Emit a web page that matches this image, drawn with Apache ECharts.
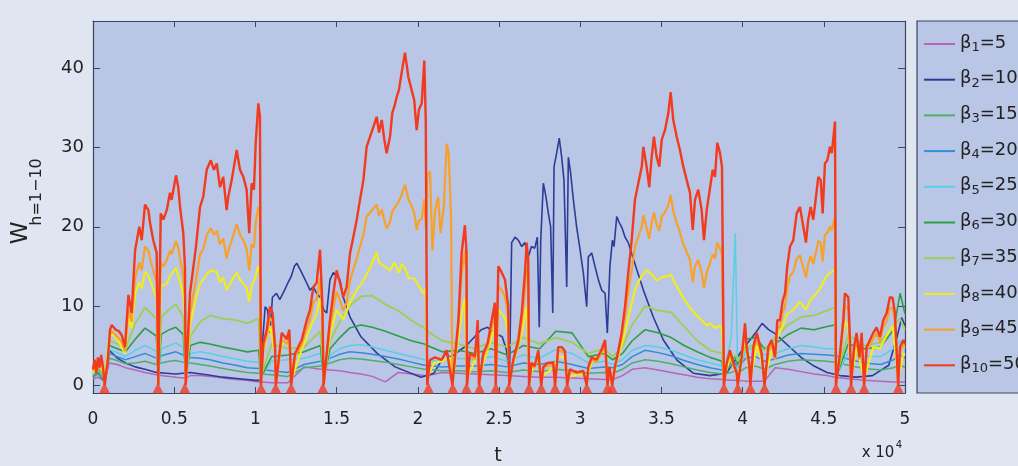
<!DOCTYPE html>
<html><head><meta charset="utf-8">
<script src="https://cdn.jsdelivr.net/npm/echarts@6/dist/echarts.min.js"></script>
<style>html,body{margin:0;padding:0;background:#dfe5f1;}#c{width:1018px;height:466px;}</style>
</head><body><div id="c"></div>
<script>
// ---------- data (t in units of 10^4) ----------
const xTickLabels = [0,0.5,1,1.5,2,2.5,3,3.5,4,4.5,5];
const yTicks = [0,10,20,30,40];
const betaVals = [5,10,15,20,25,30,35,40,45,50];
const resetT = [0.071,0.40,0.565,1.035,1.125,1.22,1.415,2.065,2.215,2.30,2.38,2.48,2.56,2.685,2.76,2.845,2.92,3.04,3.168,3.197,3.885,3.97,4.048,4.135,4.575,4.668,4.748,4.958];

const tLow = [0,0.03,0.072,0.1,0.15,0.2,0.26,0.32,0.39,0.402,0.42,0.47,0.51,0.556,0.571,0.6,0.66,0.72,0.8,0.88,0.95,1.02,1.034,1.1,1.2,1.3,1.4,1.42,1.46,1.52,1.58,1.65,1.72,1.8,1.88,1.96,2.04,2.058,2.15,2.25,2.35,2.45,2.55,2.65,2.75,2.85,2.95,3.05,3.15,3.2,3.26,3.32,3.4,3.48,3.56,3.64,3.72,3.8,3.873,3.885,3.93,3.955,3.97,4.02,4.08,4.135,4.2,4.28,4.36,4.44,4.52,4.569,4.575,4.65,4.75,4.85,4.93,4.97,5.0];
const w1 = [0.8,1.0,0.5,2.8,2.6,2.2,1.9,1.6,1.3,1.2,1.2,1.1,1.0,0.9,0.9,1.2,1.2,1.1,0.9,0.7,0.6,0.4,0.4,0.3,0.3,2.3,2.0,2.0,1.9,1.8,1.6,1.4,1.1,0.4,1.6,1.4,1.2,1.2,1.6,1.5,1.4,1.3,1.2,1.1,1.0,1.0,0.9,0.8,0.7,0.7,1.2,2.0,2.2,1.9,1.6,1.3,1.0,0.8,0.7,0.7,0.6,0.6,0.6,0.5,0.5,0.5,2.2,2.0,1.7,1.4,1.2,1.0,1.0,0.8,0.6,0.5,0.4,0.4,0.4];
const w3 = [1.0,1.4,0.6,3.4,3.1,2.7,2.8,3.0,2.6,2.5,2.8,3.0,3.1,2.9,2.8,2.8,2.6,2.4,2.1,1.8,1.6,1.5,1.4,1.3,1.1,2.2,2.4,2.4,2.8,3.2,3.4,3.3,3.1,2.9,2.6,2.3,2.0,2.0,1.8,1.8,1.7,1.8,1.6,1.9,1.7,2.0,1.8,1.5,1.6,1.5,2.0,2.8,3.2,3.0,2.7,2.3,1.9,1.6,1.4,1.4,1.6,1.8,1.5,2.2,2.4,2.0,2.6,3.0,3.2,3.1,3.0,2.9,2.9,2.5,2.1,1.9,2.2,2.6,2.2];
const w4 = [1.2,1.7,0.6,4.0,3.6,3.2,3.6,4.0,3.4,3.3,3.7,4.0,4.2,3.8,3.7,3.5,3.4,3.2,2.8,2.5,2.2,2.1,2.0,1.8,1.6,2.6,3.0,3.0,3.4,3.9,4.2,4.1,3.9,3.6,3.3,2.9,2.5,2.5,2.3,2.4,2.4,2.6,2.3,2.8,2.6,3.0,2.6,2.1,2.3,2.2,2.6,3.6,4.4,4.1,3.7,3.1,2.6,2.2,1.9,1.9,2.4,2.8,2.2,3.4,3.6,3.0,3.3,3.8,4.0,3.9,3.8,3.7,3.7,3.3,2.8,2.6,3.2,3.8,3.4];
const w5 = [1.3,1.9,0.7,4.5,4.1,3.6,4.4,5.0,4.3,1.0,4.6,5.0,5.3,4.8,1.0,4.0,4.2,4.0,3.6,3.3,3.0,2.9,1.0,3.0,3.2,3.4,4.0,1.0,3.8,4.6,5.0,5.1,4.8,4.4,4.0,3.6,3.2,3.1,3.0,3.4,3.2,3.6,3.0,3.8,3.4,4.5,4.0,2.8,3.0,2.6,3.2,4.4,5.0,4.8,4.4,3.8,3.2,2.8,2.4,1.0,6.0,19.2,1.2,4.4,4.8,3.8,4.0,4.6,5.0,4.8,4.6,4.6,1.0,4.0,3.6,3.6,4.6,5.6,5.0];
const w6 = [1.5,2.2,0.7,5.0,4.6,4.2,5.8,7.2,6.2,1.0,6.4,7.0,7.3,6.4,1.0,5.0,5.4,5.2,4.8,4.5,4.2,4.4,1.0,3.6,3.8,4.2,5.0,1.0,4.6,6.0,7.2,7.6,7.3,6.8,6.2,5.6,5.2,5.0,4.2,4.4,4.0,4.6,3.8,5.0,4.6,6.8,6.6,3.6,4.0,3.2,4.0,5.6,7.0,6.6,6.0,5.0,4.2,3.5,3.0,1.0,3.0,3.6,2.6,5.8,6.0,4.6,5.2,6.4,7.2,7.0,7.4,7.6,1.0,5.2,4.6,4.8,7.0,11.6,9.0];
const w7 = [1.6,2.4,0.8,5.6,5.2,4.6,7.8,9.8,8.4,1.0,8.6,9.6,10.2,8.6,1.0,6.2,8.0,8.8,8.4,8.2,7.8,8.4,1.0,5.2,4.6,4.8,6.8,1.2,5.6,8.0,10.0,11.2,11.3,10.2,9.4,8.2,7.2,6.8,5.6,5.2,4.6,5.4,4.8,6.0,5.2,6.0,5.4,4.0,4.6,3.6,4.8,7.6,10.0,9.4,9.2,7.4,5.6,4.4,4.0,1.0,3.4,3.8,3.0,4.6,5.2,4.4,6.0,7.6,8.6,8.8,9.4,9.8,1.0,6.4,5.0,5.4,7.6,8.4,7.0];

const w2 = [[0,1.0],[0.03,1.5],[0.072,0.5],[0.1,4.4],[0.15,3.4],[0.2,2.8],[0.26,2.3],[0.32,2.0],[0.39,1.6],[0.45,1.5],[0.51,1.4],[0.6,1.6],[0.7,1.3],[0.8,1.0],[0.9,0.8],[1.0,0.6],[1.034,0.6],[1.045,5.7],[1.06,9.9],[1.075,9.5],[1.09,6.6],[1.105,11.1],[1.13,11.6],[1.15,10.8],[1.175,11.8],[1.2,12.9],[1.22,13.7],[1.24,15],[1.255,15.4],[1.285,14.2],[1.316,12.9],[1.336,12],[1.357,12.4],[1.377,11.6],[1.398,11.1],[1.42,9.5],[1.439,9.1],[1.459,13.3],[1.48,14.2],[1.5,13.8],[1.521,13.3],[1.541,11.1],[1.583,8.6],[1.65,6.1],[1.75,4],[1.86,2.3],[2.02,1.0],[2.1,1.5],[2.17,4],[2.2,3.5],[2.3,5],[2.39,7],[2.43,7.3],[2.47,6.6],[2.52,6.1],[2.545,4.5],[2.565,1.5],[2.578,18],[2.599,18.7],[2.619,18.3],[2.64,17.5],[2.66,18],[2.68,16.2],[2.7,17.5],[2.72,17.3],[2.736,18.7],[2.748,7.3],[2.757,18.3],[2.773,25.5],[2.789,23.8],[2.804,21.7],[2.818,20],[2.831,9.1],[2.839,27.6],[2.855,29.3],[2.871,31.2],[2.886,28.8],[2.9,25.9],[2.917,12.4],[2.927,28.8],[2.941,26.8],[2.958,23.4],[2.978,20],[2.999,17.1],[3.019,14.2],[3.04,9.9],[3.05,16.2],[3.071,16.7],[3.091,15],[3.112,13.3],[3.132,12],[3.153,11.6],[3.167,6.6],[3.183,15],[3.198,18.3],[3.208,17.5],[3.225,21.3],[3.241,20.5],[3.255,20],[3.276,18.7],[3.296,18],[3.348,14.6],[3.389,12],[3.45,8.6],[3.512,5.7],[3.594,3.2],[3.696,1.5],[3.8,1.2],[3.9,1.5],[3.95,3],[4.0,4.5],[4.08,6.6],[4.12,7.8],[4.16,7.0],[4.2,6.5],[4.28,5],[4.36,3.5],[4.44,2.4],[4.52,1.6],[4.6,1.2],[4.7,1.0],[4.8,1.2],[4.9,2.5],[4.95,6],[4.98,8.5],[5.0,7.5]];

const w8 = [[0,1.5],[0.03,2.6],[0.06,2.0],[0.072,0.5],[0.1,6.0],[0.115,6.5],[0.15,5.8],[0.197,4.0],[0.218,8.5],[0.238,7.2],[0.259,11.5],[0.285,13],[0.3,12.2],[0.32,14.3],[0.341,13.8],[0.371,12.2],[0.392,11],[0.402,0.5],[0.417,12.5],[0.454,12.8],[0.474,13.8],[0.511,14.8],[0.536,13],[0.556,11.5],[0.566,9],[0.571,0.5],[0.597,7.5],[0.634,11],[0.659,12.8],[0.7,14],[0.725,14.5],[0.762,14.3],[0.782,13],[0.802,13.6],[0.823,12],[0.854,13.2],[0.885,14.2],[0.905,13.3],[0.946,12.3],[0.962,10.5],[0.977,12.5],[1.002,13.8],[1.018,15],[1.028,14.3],[1.034,0.5],[1.049,4.3],[1.09,7.5],[1.121,4],[1.126,0.5],[1.162,5.2],[1.209,5.6],[1.22,0.5],[1.285,4.5],[1.336,7.2],[1.377,9],[1.398,11],[1.412,8],[1.42,0.5],[1.459,6.3],[1.5,9.5],[1.541,8.3],[1.583,10.5],[1.624,12],[1.665,13.2],[1.706,14.8],[1.747,16.8],[1.761,15.5],[1.794,15],[1.829,14.5],[1.856,15.5],[1.884,14.2],[1.9,15.3],[1.921,14.8],[1.942,13.5],[1.978,13.5],[2.007,12.5],[2.04,11.5],[2.049,12.2],[2.058,1],[2.1,2.8],[2.15,3],[2.2,3.5],[2.213,0.5],[2.27,9],[2.29,11],[2.303,1],[2.35,3],[2.369,6],[2.377,1],[2.43,4.5],[2.455,6],[2.475,7.5],[2.48,1],[2.496,9.5],[2.537,8.5],[2.557,6.5],[2.563,1],[2.64,6.5],[2.67,10],[2.685,1],[2.742,3.5],[2.76,1],[2.834,2.2],[2.865,3.6],[2.906,3.5],[2.92,1],[3.019,1.5],[3.04,1],[3.07,2.8],[3.153,4.6],[3.168,1],[3.197,1],[3.255,5],[3.296,8.5],[3.337,12],[3.358,13],[3.379,13.8],[3.409,14.5],[3.44,14],[3.471,13.2],[3.502,13.6],[3.543,13.8],[3.557,14],[3.594,12.5],[3.635,11],[3.676,9.8],[3.707,9],[3.748,8.2],[3.779,7.5],[3.8,7.8],[3.83,7.2],[3.861,7.5],[3.873,7],[3.885,0.8],[3.922,3.6],[3.964,1.5],[3.97,0.8],[4.015,5.8],[4.048,0.8],[4.087,5],[4.117,3],[4.135,0.8],[4.179,4.3],[4.214,6],[4.247,7.5],[4.275,9],[4.312,9.5],[4.353,10.5],[4.39,9.5],[4.419,10.8],[4.452,11.5],[4.481,12.3],[4.507,13.5],[4.538,14.2],[4.569,14.5],[4.575,0.8],[4.63,8],[4.651,7.5],[4.668,0.8],[4.702,4.8],[4.748,0.8],[4.805,4.8],[4.846,4.6],[4.887,6.3],[4.924,7.5],[4.958,0.8],[4.99,4],[5.0,3.8]];

const w9 = [[0,1.8],[0.01,2.8],[0.02,1.5],[0.03,3.0],[0.04,2.0],[0.05,3.2],[0.06,2.3],[0.072,0],[0.09,3],[0.105,6.5],[0.115,6.8],[0.14,6.3],[0.177,5.5],[0.197,4.3],[0.218,9.5],[0.238,8],[0.259,13.5],[0.285,15.5],[0.3,14.5],[0.32,17.5],[0.341,17],[0.351,16],[0.371,14.5],[0.392,13],[0.402,0],[0.417,15.5],[0.433,15],[0.454,15.8],[0.474,17],[0.484,16.5],[0.511,18.2],[0.525,17.3],[0.536,16],[0.556,13.8],[0.566,11],[0.571,0],[0.597,9],[0.608,10.3],[0.634,13.3],[0.659,16.5],[0.679,17.2],[0.7,19],[0.725,19.8],[0.745,19],[0.762,19.5],[0.782,17.8],[0.802,18.5],[0.823,16],[0.833,17],[0.854,18.3],[0.868,19.2],[0.885,20.3],[0.905,19],[0.926,18.3],[0.946,17.2],[0.962,14.5],[0.977,17.8],[0.991,17.4],[1.002,20.5],[1.018,22.5],[1.028,21.5],[1.034,0],[1.049,4.8],[1.07,6.2],[1.09,8.5],[1.106,8],[1.121,4.3],[1.126,0],[1.162,5.8],[1.193,5.2],[1.209,6.2],[1.22,0],[1.244,3.6],[1.285,5.1],[1.316,7.2],[1.336,8.3],[1.357,10.5],[1.377,10.8],[1.398,13.5],[1.412,9],[1.42,0],[1.439,3.6],[1.459,7.2],[1.48,9.8],[1.5,11.8],[1.521,10.7],[1.541,9.4],[1.562,10.4],[1.583,13.2],[1.603,14.6],[1.624,16],[1.644,17.5],[1.665,19],[1.685,21.3],[1.706,21.8],[1.726,22.3],[1.747,22.8],[1.761,21.4],[1.778,22.2],[1.794,20.8],[1.808,19.8],[1.829,20.6],[1.843,22],[1.856,22.3],[1.87,22.8],[1.884,23.2],[1.9,24],[1.921,25.3],[1.942,23.5],[1.962,22.6],[1.978,21.8],[1.993,19.6],[2.007,20.8],[2.024,21],[2.04,23.5],[2.049,20],[2.058,26.5],[2.075,27],[2.09,17],[2.106,22],[2.125,23.8],[2.14,19.2],[2.16,22.5],[2.178,30.5],[2.19,29.3],[2.205,21],[2.213,0],[2.25,7.5],[2.27,14],[2.29,17],[2.3,14],[2.303,0],[2.32,3.6],[2.352,3.3],[2.369,7.3],[2.377,0],[2.403,3.6],[2.43,4.8],[2.455,7.3],[2.475,9.2],[2.48,0],[2.496,12.5],[2.517,12],[2.537,11.2],[2.557,8.6],[2.563,0],[2.588,2.9],[2.619,5.1],[2.64,8],[2.66,12],[2.67,14.8],[2.68,13.3],[2.685,0],[2.7,2.5],[2.72,2.2],[2.742,4],[2.76,0],[2.773,2.1],[2.8,2.5],[2.834,2.5],[2.845,0],[2.865,4.3],[2.886,4.3],[2.906,3.9],[2.92,0],[2.937,1.8],[2.978,1.5],[3.019,1.6],[3.04,0],[3.05,2.1],[3.07,3.2],[3.1,2.9],[3.13,4],[3.153,5.1],[3.168,0],[3.18,2.1],[3.197,0],[3.214,2.1],[3.235,4],[3.255,5.9],[3.276,8.6],[3.296,11.8],[3.317,14.5],[3.337,17.5],[3.358,18.8],[3.379,20],[3.389,21.5],[3.409,19.8],[3.425,18.5],[3.44,20.5],[3.454,21.8],[3.471,20.3],[3.487,19.5],[3.502,21.3],[3.522,21.8],[3.543,22.8],[3.557,24],[3.573,22],[3.594,20.5],[3.614,19.3],[3.635,17.8],[3.656,16.8],[3.676,15.8],[3.693,13],[3.707,15],[3.727,15.8],[3.748,14.2],[3.762,12.3],[3.779,14.2],[3.8,15.5],[3.816,16.5],[3.83,16],[3.844,18],[3.861,17.3],[3.873,16.5],[3.885,0],[3.902,2.5],[3.922,4],[3.943,2.5],[3.964,1.3],[3.97,0],[3.994,3.2],[4.015,7],[4.025,4.3],[4.04,2.5],[4.048,0],[4.066,4.3],[4.087,5.9],[4.103,4.8],[4.117,3.6],[4.135,0],[4.158,4.3],[4.179,5.1],[4.2,3.2],[4.214,7.3],[4.23,7.3],[4.247,9.2],[4.261,9.9],[4.275,12.3],[4.292,13.8],[4.312,14.3],[4.333,16],[4.353,16.4],[4.374,14.8],[4.39,13.6],[4.404,15.3],[4.419,16.3],[4.435,15.3],[4.452,16.8],[4.466,18.2],[4.481,18],[4.493,15.6],[4.507,19],[4.522,19.2],[4.538,20],[4.549,19.6],[4.558,20.4],[4.569,21.2],[4.575,0],[4.6,3.6],[4.62,7.3],[4.63,10],[4.651,9.6],[4.661,5.1],[4.668,0],[4.686,4.3],[4.702,5.9],[4.719,3.2],[4.733,5.9],[4.748,0],[4.764,4.3],[4.784,5.1],[4.805,5.9],[4.825,6.5],[4.846,5.5],[4.866,7.3],[4.887,8.1],[4.907,9.8],[4.924,9.7],[4.938,8.1],[4.958,0],[4.969,4.3],[4.99,5.1],[5.0,4.7]];

const w10 = [[0,2.0],[0.01,3.2],[0.02,1.5],[0.03,3.5],[0.04,2.2],[0.05,3.8],[0.06,2.5],[0.068,1.0],[0.072,0],[0.09,3.0],[0.105,7.0],[0.115,7.6],[0.14,7.0],[0.16,6.8],[0.177,6.3],[0.197,4.8],[0.218,11.4],[0.238,9.1],[0.259,17],[0.285,20],[0.3,18.3],[0.32,22.8],[0.341,22.1],[0.351,20.5],[0.371,18.3],[0.392,16.7],[0.402,0],[0.417,21.7],[0.433,20.9],[0.454,22.1],[0.474,24.3],[0.484,23.4],[0.511,26.5],[0.525,25],[0.536,22.5],[0.556,19.2],[0.566,15],[0.571,0],[0.597,11.6],[0.608,13.3],[0.634,17.5],[0.659,22.5],[0.679,23.8],[0.7,27.2],[0.725,28.4],[0.745,27.2],[0.762,28],[0.782,25],[0.802,26.3],[0.823,22.1],[0.833,23.8],[0.854,25.9],[0.868,27.6],[0.885,29.7],[0.905,27.2],[0.926,26.3],[0.946,24.7],[0.962,19.2],[0.977,25.5],[0.991,24.7],[1.002,30.6],[1.018,35.6],[1.028,33.9],[1.034,0],[1.049,5.3],[1.07,7.0],[1.09,9.9],[1.106,9.1],[1.121,4.8],[1.126,0],[1.162,6.6],[1.193,5.8],[1.209,7.0],[1.22,0],[1.244,4.0],[1.285,5.7],[1.316,8.2],[1.336,9.5],[1.357,12.4],[1.377,12.9],[1.398,17.1],[1.412,10.4],[1.42,0],[1.439,4.0],[1.459,8.2],[1.48,11.6],[1.5,14.5],[1.521,12.9],[1.541,11.1],[1.562,12.4],[1.583,16.7],[1.603,18.7],[1.624,20.9],[1.644,23.4],[1.665,25.9],[1.685,30.1],[1.706,31.4],[1.726,32.6],[1.747,33.9],[1.761,31.9],[1.778,33.5],[1.794,31],[1.808,29.3],[1.829,31.4],[1.843,34.4],[1.856,35.2],[1.87,36.4],[1.884,37.3],[1.9,39.4],[1.921,42],[1.942,38.9],[1.962,37.3],[1.978,36],[1.993,32.2],[2.007,34.8],[2.024,35.6],[2.04,41],[2.049,33.5],[2.058,0],[2.075,3.2],[2.106,3.5],[2.147,3.2],[2.178,4.4],[2.198,1.9],[2.213,0],[2.25,8.2],[2.27,16.7],[2.29,20.2],[2.3,16.7],[2.303,0],[2.32,4.0],[2.352,3.6],[2.369,8.2],[2.377,0],[2.403,4.0],[2.43,5.3],[2.455,8.2],[2.475,10.4],[2.48,0],[2.496,15],[2.517,14.2],[2.537,13.3],[2.557,9.9],[2.563,0],[2.588,3.2],[2.619,5.7],[2.64,9.1],[2.66,14.2],[2.67,18],[2.68,15.8],[2.685,0],[2.7,2.8],[2.72,2.4],[2.742,4.4],[2.76,0],[2.773,2.3],[2.8,2.8],[2.834,2.8],[2.845,0],[2.865,4.8],[2.886,4.8],[2.906,4.3],[2.92,0],[2.937,2.0],[2.978,1.6],[3.019,1.8],[3.04,0],[3.05,2.3],[3.07,3.5],[3.1,3.2],[3.13,4.4],[3.153,5.7],[3.168,0],[3.18,2.3],[3.197,0],[3.214,2.3],[3.235,4.4],[3.255,6.6],[3.276,9.9],[3.296,14.2],[3.317,18.3],[3.337,23.4],[3.358,25.5],[3.379,27.6],[3.389,30.1],[3.409,27.6],[3.425,25],[3.44,28.8],[3.454,31.4],[3.471,28.8],[3.487,27.6],[3.502,31],[3.522,32.2],[3.543,34.4],[3.557,37],[3.573,33.5],[3.594,31.4],[3.614,29.7],[3.635,27.6],[3.656,25.9],[3.676,24.3],[3.693,19.6],[3.707,23.4],[3.727,24.7],[3.748,22.1],[3.762,18.3],[3.779,22.1],[3.8,25],[3.816,27.2],[3.83,26.3],[3.844,30.6],[3.861,29.3],[3.873,27.6],[3.885,0],[3.902,2.8],[3.922,4.4],[3.943,2.8],[3.964,1.5],[3.97,0],[3.994,3.5],[4.015,7.8],[4.025,4.8],[4.04,2.8],[4.048,0],[4.066,4.8],[4.087,6.6],[4.103,5.3],[4.117,4.0],[4.135,0],[4.158,4.8],[4.179,5.7],[4.2,3.5],[4.214,8.2],[4.23,8.2],[4.247,10.7],[4.261,11.6],[4.275,15],[4.292,17.5],[4.312,18.3],[4.333,21.7],[4.353,22.5],[4.374,20],[4.39,18],[4.404,20.9],[4.419,22.5],[4.435,20.9],[4.452,23.8],[4.466,26.3],[4.481,25.9],[4.493,21.7],[4.507,28],[4.522,28.4],[4.538,30.1],[4.549,29.3],[4.558,31],[4.569,33.3],[4.575,0],[4.6,4.0],[4.62,8.2],[4.63,11.6],[4.651,11.1],[4.661,5.7],[4.668,0],[4.686,4.8],[4.702,6.6],[4.719,3.5],[4.733,6.6],[4.748,0],[4.764,4.8],[4.784,5.7],[4.805,6.6],[4.825,7.3],[4.846,6.1],[4.866,8.2],[4.887,9.1],[4.907,11.1],[4.924,11],[4.938,9.1],[4.958,0],[4.969,4.8],[4.99,5.7],[5.0,5.2]];

// ---------- styling ----------
const colors = ['#b666b6','#2b3d96','#4fae68','#2f8fd6','#58cfe6','#2c9f45','#9ccf52','#efec22','#f7a12a','#f23a1f'];
const widths = [1.5,1.6,1.5,1.5,1.5,1.6,1.8,2.2,2.2,2.4];
const frame = '#3a4560';
const plotBg = '#b9c6e6';
const FONT = 'DejaVu Sans';

const zip = (t, v) => t.map((x, i) => [x, v[i]]);
const seriesData = [zip(tLow,w1), w2, zip(tLow,w3), zip(tLow,w4), zip(tLow,w5), zip(tLow,w6), zip(tLow,w7), w8, w9, w10];
const names = betaVals.map((b, i) => 'β' + (i + 1) + '=' + b);

const series = seriesData.map((d, i) => ({
  name: names[i], type: 'line', data: d, symbol: 'none', showSymbol: false,
  lineStyle: { color: colors[i], width: widths[i] }, itemStyle: { color: colors[i] },
  z: 2 + i, silent: true
}));
series.push({
  name: 'reset', type: 'scatter', data: resetT.map(t => [t, -0.37]),
  symbol: 'triangle', symbolSize: [11, 11], itemStyle: { color: '#f23a1f' }, z: 20, silent: true
});

const chart = echarts.init(document.getElementById('c'));
chart.setOption({
  animation: false,
  backgroundColor: '#dfe5f1',
  grid: { left: 93, top: 21, width: 812, height: 372, show: true, backgroundColor: plotBg, borderWidth: 0 },
  xAxis: [
    { type: 'value', min: 0, max: 5, interval: 0.5, position: 'bottom',
      axisLine: { onZero: false, lineStyle: { color: frame, width: 1.2 } },
      axisTick: { inside: true, length: 6, lineStyle: { color: frame } },
      axisLabel: { margin: 18, fontSize: 17, fontFamily: FONT, color: '#222',
        formatter: v => { const k = xTickLabels.indexOf(v); return k >= 0 ? String(xTickLabels[k]) : ''; } },
      splitLine: { show: false } },
    { type: 'value', min: 0, max: 5, interval: 0.5, position: 'top',
      axisLine: { onZero: false, lineStyle: { color: frame, width: 1.2 } },
      axisTick: { inside: true, length: 6, lineStyle: { color: frame } },
      axisLabel: { show: false }, splitLine: { show: false } }
  ],
  yAxis: [
    { type: 'value', min: -1, max: 46, position: 'left',
      axisLine: { show: true, onZero: false, lineStyle: { color: frame, width: 1.2 } },
      axisTick: { show: true, inside: true, length: 7, customValues: yTicks, lineStyle: { color: frame } },
      axisLabel: { customValues: yTicks, margin: 9, fontSize: 18, fontFamily: FONT, color: '#222' },
      splitLine: { show: false } },
    { type: 'value', min: -1, max: 46, position: 'right',
      axisLine: { show: true, onZero: false, lineStyle: { color: frame, width: 1.2 } },
      axisTick: { show: true, inside: true, length: 7, customValues: yTicks, lineStyle: { color: frame } },
      axisLabel: { show: false }, splitLine: { show: false } }
  ],
  legend: {
    data: names.map((n, i) => ({ name: n, icon: 'rect', itemStyle: { color: colors[i] } })),
    orient: 'vertical', left: 924, top: 29, itemWidth: 31, itemHeight: 2, itemGap: 10.7,
    selectedMode: false, padding: 0,
    formatter: name => { const i = names.indexOf(name); return '{b|β}{s|' + (i + 1) + '}{b|=' + betaVals[i] + '}'; },
    textStyle: { rich: {
      b: { fontSize: 18, fontFamily: FONT, color: '#222', verticalAlign: 'top', lineHeight: 20 },
      s: { fontSize: 13, fontFamily: FONT, color: '#222', verticalAlign: 'bottom', lineHeight: 14, padding: [12, 0, 0, 0] }
    } }
  },
  graphic: [
    { type: 'rect', z: 0, shape: { x: 917, y: 21, width: 120, height: 372 },
      style: { fill: plotBg, stroke: frame, lineWidth: 1.2 } },
    { type: 'text', x: 21, y: 233, rotation: Math.PI / 2,
      style: { text: 'W', fontSize: 23, fontFamily: FONT, fill: '#222', align: 'center', verticalAlign: 'middle' } },
    { type: 'text', x: 37, y: 192, rotation: Math.PI / 2,
      style: { text: 'h=1−10', fontSize: 16, fontFamily: FONT, fill: '#222', align: 'center', verticalAlign: 'middle' } },
    { type: 'text', x: 498, y: 456,
      style: { text: 't', fontSize: 19, fontFamily: FONT, fill: '#222', align: 'center', verticalAlign: 'middle' } },
    { type: 'text', x: 878, y: 453,
      style: { text: 'x 10', fontSize: 15, fontFamily: FONT, fill: '#222', align: 'center', verticalAlign: 'middle' } },
    { type: 'text', x: 899, y: 445,
      style: { text: '4', fontSize: 10, fontFamily: FONT, fill: '#222', align: 'center', verticalAlign: 'middle' } }
  ],
  series: series
});
</script>
</body></html>
